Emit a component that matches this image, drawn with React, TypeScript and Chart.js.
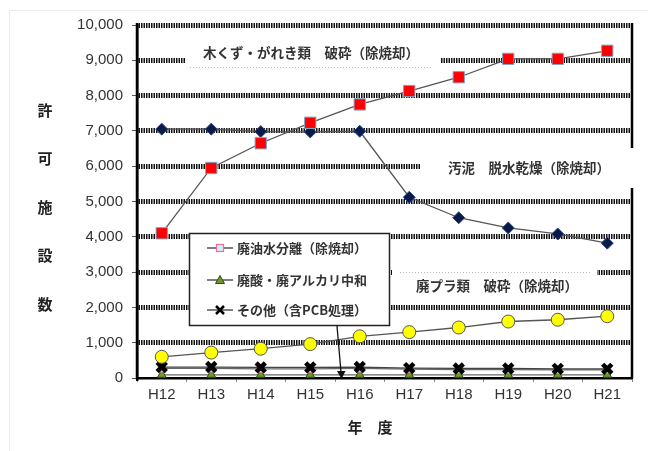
import React, { useEffect, useRef } from "react";
import { Chart, registerables } from "chart.js";

Chart.register(...registerables);

const categories = ["H12", "H13", "H14", "H15", "H16", "H17", "H18", "H19", "H20", "H21"];
const yMax = 10000;
const yStep = 1000;

const woodName = "木くず・がれき類　破砕（除焼却）";
const woodValues = [4100, 5950, 6650, 7230, 7750, 8130, 8520, 9040, 9040, 9270];

const sludgeName = "汚泥　脱水乾燥（除焼却）";
const sludgeValues = [7050, 7050, 6980, 6970, 6990, 5120, 4540, 4250, 4080, 3820];

const plasticName = "廃プラ類　破砕（除焼却）";
const plasticValues = [600, 720, 830, 960, 1180, 1300, 1430, 1600, 1650, 1750];

const oilName = "廃油水分離（除焼却）";
const oilValues = [270, 270, 260, 260, 270, 250, 240, 240, 230, 230];

const acidName = "廃酸・廃アルカリ中和";
const acidValues = [90, 90, 90, 90, 90, 90, 90, 90, 90, 90];

const otherName = "その他（含PCB処理）";
const otherValues = [310, 310, 300, 300, 310, 280, 270, 270, 260, 260];

const yTitleChars = ["許", "可", "施", "設", "数"];
const xTitle = "年　度";

const JP = "'Noto Sans CJK JP', 'Noto Sans', sans-serif";

function drawMarker(ctx: CanvasRenderingContext2D, kind: string, x: number, y: number) {
  ctx.save();
  if (kind === "oil") {
    ctx.fillStyle = "#d8ecff";
    ctx.strokeStyle = "#f07090";
    ctx.lineWidth = 1.2;
    ctx.fillRect(x - 3.5, y - 3.5, 7, 7);
    ctx.strokeRect(x - 3.5, y - 3.5, 7, 7);
  } else if (kind === "acid") {
    ctx.fillStyle = "#6a9a2a";
    ctx.strokeStyle = "#2f4f10";
    ctx.lineWidth = 1;
    ctx.beginPath();
    ctx.moveTo(x, y - 4.5);
    ctx.lineTo(x + 4.5, y + 3.5);
    ctx.lineTo(x - 4.5, y + 3.5);
    ctx.closePath();
    ctx.fill();
    ctx.stroke();
  } else {
    ctx.strokeStyle = "#000";
    ctx.lineWidth = 2.5;
    ctx.beginPath();
    ctx.moveTo(x - 4, y - 4);
    ctx.lineTo(x + 4, y + 4);
    ctx.moveTo(x + 4, y - 4);
    ctx.lineTo(x - 4, y + 4);
    ctx.stroke();
  }
  ctx.restore();
}

const annotationPlugin = {
  id: "annotations",
  beforeDatasetsDraw(chart: any) {
    const ctx: CanvasRenderingContext2D = chart.ctx;
    const { left, right, top, bottom } = chart.chartArea;
    ctx.save();
    ctx.strokeStyle = "#000";
    ctx.lineWidth = 2.5;
    ctx.setLineDash([]);
    ctx.beginPath();
    ctx.moveTo(right, top - 2);
    ctx.lineTo(right, bottom);
    ctx.moveTo(left, top - 2);
    ctx.lineTo(left, bottom + 1);
    ctx.stroke();
    ctx.fillStyle = "#fff";
    ctx.fillRect(185, 38, 255, 29);
    ctx.fillRect(420, 148, 228, 40);
    ctx.fillRect(392, 270, 205, 30);
    ctx.strokeStyle = "#bbb";
    ctx.lineWidth = 1;
    ctx.setLineDash([1, 2]);
    ctx.beginPath();
    ctx.moveTo(190, 67.5);
    ctx.lineTo(432, 67.5);
    ctx.moveTo(400, 272.5);
    ctx.lineTo(592, 272.5);
    ctx.stroke();
    ctx.setLineDash([]);
    ctx.restore();
  },
  afterDatasetsDraw(chart: any) {
    const ctx: CanvasRenderingContext2D = chart.ctx;
    ctx.save();
    ctx.strokeStyle = "#ececec";
    ctx.lineWidth = 1;
    ctx.beginPath();
    ctx.moveTo(9.5, 451);
    ctx.lineTo(9.5, 10.5);
    ctx.lineTo(648, 10.5);
    ctx.stroke();

    ctx.fillStyle = "#333";
    ctx.font = "bold 13.5px " + JP;
    ctx.textAlign = "center";
    ctx.textBaseline = "middle";
    ctx.fillText(woodName, 311, 53);
    ctx.fillText(sludgeName, 529, 168);
    ctx.fillText(plasticName, 497, 286);

    ctx.fillStyle = "#fff";
    ctx.fillRect(189, 233, 200, 93);
    ctx.strokeStyle = "#222";
    ctx.lineWidth = 1.5;
    ctx.strokeRect(189.5, 233.5, 200, 92);
    const items = [
      { name: oilName, kind: "oil", y: 248 },
      { name: acidName, kind: "acid", y: 280 },
      { name: otherName, kind: "other", y: 310 },
    ];
    items.forEach((it) => {
      ctx.strokeStyle = "#555";
      ctx.lineWidth = 1.5;
      ctx.beginPath();
      ctx.moveTo(207, it.y);
      ctx.lineTo(233, it.y);
      ctx.stroke();
      drawMarker(ctx, it.kind, 220, it.y);
      ctx.fillStyle = "#333";
      ctx.font = "bold 13px " + JP;
      ctx.textAlign = "left";
      ctx.textBaseline = "middle";
      ctx.fillText(it.name, 237, it.y);
    });

    ctx.strokeStyle = "#111";
    ctx.lineWidth = 1.3;
    ctx.beginPath();
    ctx.moveTo(337, 326);
    ctx.lineTo(341, 372);
    ctx.stroke();
    ctx.fillStyle = "#111";
    ctx.beginPath();
    ctx.moveTo(341.5, 379);
    ctx.lineTo(337, 371);
    ctx.lineTo(345.5, 371);
    ctx.closePath();
    ctx.fill();

    ctx.fillStyle = "#222";
    ctx.font = "bold 15px " + JP;
    ctx.textAlign = "center";
    ctx.textBaseline = "middle";
    yTitleChars.forEach((c, i) => ctx.fillText(c, 45, 110 + i * 48.5));
    ctx.fillText(xTitle, 370, 427);
    ctx.restore();
  },
};

export default function App() {
  const ref = useRef<HTMLCanvasElement>(null);
  useEffect(() => {
    const line = "#555";
    const chart = new Chart(ref.current as HTMLCanvasElement, {
      type: "line",
      data: {
        labels: categories,
        datasets: [
          {
            label: woodName,
            data: woodValues,
            borderColor: line,
            borderWidth: 1.3,
            pointStyle: "rect",
            pointRadius: 8,
            pointBackgroundColor: "#ff0000",
            pointBorderColor: "#7fa6c8",
            pointBorderWidth: 1,
          },
          {
            label: sludgeName,
            data: sludgeValues,
            borderColor: line,
            borderWidth: 1.3,
            pointStyle: "rectRot",
            pointRadius: 6,
            pointBackgroundColor: "#0b1a44",
            pointBorderColor: "#2a4a90",
            pointBorderWidth: 1,
          },
          {
            label: plasticName,
            data: plasticValues,
            borderColor: line,
            borderWidth: 1.3,
            pointStyle: "circle",
            pointRadius: 6.5,
            pointBackgroundColor: "#ffff00",
            pointBorderColor: "#555",
            pointBorderWidth: 1,
          },
          {
            label: otherName,
            data: otherValues,
            borderColor: "#444",
            borderWidth: 1.3,
            pointStyle: "crossRot",
            pointRadius: 6.5,
            pointBorderColor: "#000",
            pointBorderWidth: 4.5,
          },
          {
            label: oilName,
            data: oilValues,
            borderColor: "#666",
            borderWidth: 1.3,
            pointStyle: "rect",
            pointRadius: 5,
            pointBackgroundColor: "#d8ecff",
            pointBorderColor: "#f07090",
            pointBorderWidth: 1,
          },
          {
            label: acidName,
            data: acidValues,
            borderColor: "#666",
            borderWidth: 1.3,
            pointStyle: "triangle",
            pointRadius: 5,
            pointBackgroundColor: "#6a9a2a",
            pointBorderColor: "#2f4f10",
            pointBorderWidth: 1,
          },
        ],
      },
      options: {
        animation: false,
        responsive: false,
        layout: { padding: { left: 0, right: 16, top: 25, bottom: 0 } },
        plugins: { legend: { display: false }, tooltip: { enabled: false } },
        scales: {
          x: {
            offset: true,
            grid: {
              offset: true,
              drawOnChartArea: false,
              drawTicks: true,
              tickLength: 4,
              tickColor: "#888",
              tickWidth: 1,
            },
            border: { display: true, color: "#000", width: 2.5 },
            ticks: {
              color: "#333",
              font: { family: "'Liberation Sans', Arial, sans-serif", size: 15 },
              padding: 4,
            },
            afterFit: (s: any) => {
              s.height = 73;
            },
          },
          y: {
            min: 0,
            max: yMax,
            ticks: {
              stepSize: yStep,
              color: "#333",
              font: { family: "'Liberation Sans', Arial, sans-serif", size: 15 },
              padding: 9,
              callback: (v: any) => Number(v).toLocaleString("en-US"),
            },
            grid: {
              color: (c: any) => (c.tick && c.tick.value === 0 ? "rgba(0,0,0,0)" : "#111"),
              lineWidth: 5,
              tickLength: 5,
              tickColor: "#555",
              tickWidth: 1,
              tickBorderDash: [],
            } as any,
            border: { display: true, color: "#000", width: 2.5, dash: [1.5, 1] } as any,
            afterFit: (s: any) => {
              s.width = 137;
            },
          },
        },
      },
      plugins: [annotationPlugin],
    } as any);
    return () => chart.destroy();
  }, []);
  return (
    <div style={{ position: "fixed", left: 0, top: 0, width: 648, height: 451, background: "#fff" }}>
      <canvas ref={ref} width={648} height={451} style={{ display: "block" }} />
    </div>
  );
}
